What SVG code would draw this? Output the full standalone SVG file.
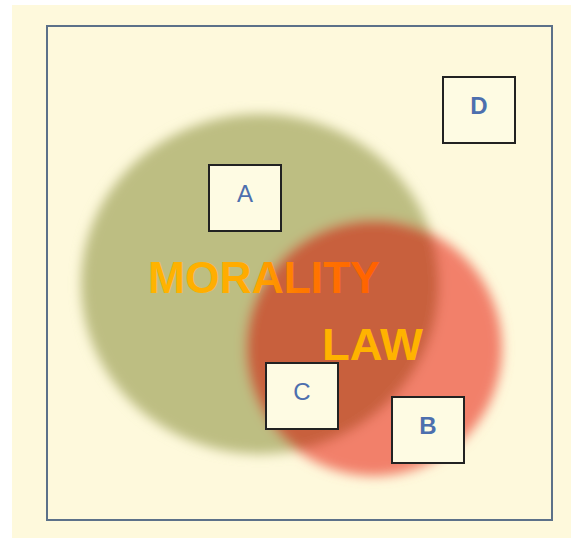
<svg xmlns="http://www.w3.org/2000/svg" width="571" height="538" viewBox="0 0 571 538">
  <style>
    .box { fill: #fefbe3; stroke: #222222; stroke-width: 2; }
    .lbl { font-family: "Liberation Sans", Arial, sans-serif; font-size: 24px; fill: #4d6fae; text-anchor: middle; }
    .big { font-family: "Liberation Sans", Arial, sans-serif; font-size: 44px; font-weight: bold; }
  </style>
  <defs>
    <filter id="blur" x="-20%" y="-20%" width="140%" height="140%">
      <feGaussianBlur stdDeviation="6"/>
    </filter>
    <clipPath id="greenClip">
      <ellipse cx="260" cy="284" rx="179" ry="170"/>
    </clipPath>
    <linearGradient id="moralGrad" x1="148" y1="0" x2="380" y2="0" gradientUnits="userSpaceOnUse">
      <stop offset="0" stop-color="#ffb400"/>
      <stop offset="0.45" stop-color="#ffaa00"/>
      <stop offset="0.65" stop-color="#ff7a00"/>
      <stop offset="1" stop-color="#ff6000"/>
    </linearGradient>
  </defs>
  <rect x="0" y="0" width="571" height="538" fill="#ffffff"/>
  <rect x="12" y="5" width="559" height="533" fill="#fef9dc"/>
  <rect x="47" y="26" width="505" height="494" fill="none" stroke="#5c7189" stroke-width="2"/>
  <g id="circles" filter="url(#blur)">
    <ellipse cx="260" cy="284" rx="179" ry="170" fill="#bdbe82"/>
    <circle cx="374" cy="348" r="128" fill="#f2806a"/>
    <circle cx="374" cy="348" r="128" fill="#c8603e" clip-path="url(#greenClip)"/>
  </g>
  <g id="texts">
    <text class="big" x="148" y="293" fill="url(#moralGrad)" textLength="232" lengthAdjust="spacingAndGlyphs">MORALITY</text>
    <text class="big" x="322" y="360" fill="#ffb300" textLength="101" lengthAdjust="spacingAndGlyphs">LAW</text>
  </g>
  <g id="node-A">
    <rect class="box" x="209" y="165" width="72" height="66"/>
    <text class="lbl" x="245" y="202">A</text>
  </g>
  <g id="node-D">
    <rect class="box" x="443" y="77" width="72" height="66"/>
    <text class="lbl" x="479" y="114" font-weight="bold">D</text>
  </g>
  <g id="node-C">
    <rect class="box" x="266" y="363" width="72" height="66"/>
    <text class="lbl" x="302" y="400">C</text>
  </g>
  <g id="node-B">
    <rect class="box" x="392" y="397" width="72" height="66"/>
    <text class="lbl" x="428" y="434" font-weight="bold">B</text>
  </g>
  <g id="connectors"/>
</svg>
